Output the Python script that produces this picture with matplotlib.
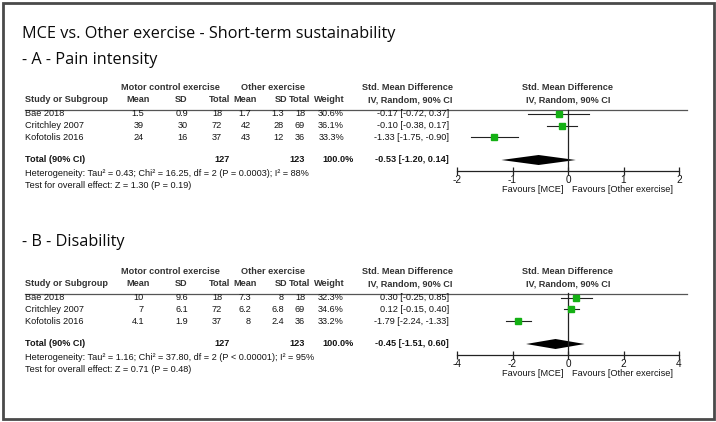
import matplotlib
matplotlib.use("Agg")
import matplotlib.pyplot as plt
from matplotlib.patches import Rectangle
from matplotlib import font_manager

# ---------------- data ----------------
studies = ["Bae 2018", "Critchley 2007", "Kofotolis 2016"]

# Panel A - Pain intensity
a_mce_mean = [1.5, 39, 24]
a_mce_sd = [0.9, 30, 16]
a_mce_n = [18, 72, 37]
a_oth_mean = [1.7, 42, 43]
a_oth_sd = [1.3, 28, 12]
a_oth_n = [18, 69, 36]
a_weight = [30.6, 36.1, 33.3]
a_smd = [-0.17, -0.10, -1.33]
a_lo = [-0.72, -0.38, -1.75]
a_hi = [0.37, 0.17, -0.90]
a_total = [-0.53, -1.20, 0.14]
a_total_n = [127, 123]
a_het = "Heterogeneity: Tau² = 0.43; Chi² = 16.25, df = 2 (P = 0.0003); I² = 88%"
a_test = "Test for overall effect: Z = 1.30 (P = 0.19)"
a_ticks = [-2, -1, 0, 1, 2]

# Panel B - Disability
b_mce_mean = [10, 7, 4.1]
b_mce_sd = [9.6, 6.1, 1.9]
b_mce_n = [18, 72, 37]
b_oth_mean = [7.3, 6.2, 8]
b_oth_sd = [8, 6.8, 2.4]
b_oth_n = [18, 69, 36]
b_weight = [32.3, 34.6, 33.2]
b_smd = [0.30, 0.12, -1.79]
b_lo = [-0.25, -0.15, -2.24]
b_hi = [0.85, 0.40, -1.33]
b_total = [-0.45, -1.51, 0.60]
b_total_n = [127, 123]
b_het = "Heterogeneity: Tau² = 1.16; Chi² = 37.80, df = 2 (P < 0.00001); I² = 95%"
b_test = "Test for overall effect: Z = 0.71 (P = 0.48)"
b_ticks = [-4, -2, 0, 2, 4]

title = "MCE vs. Other exercise - Short-term sustainability"
a_label = "- A - Pain intensity"
b_label = "- B - Disability"

# ---------------- layout ----------------
W, H = 716, 422
fig = plt.figure(figsize=(7.16, 4.22), dpi=100)
bg = fig.add_axes([0, 0, 1, 1])
bg.set_xlim(0, W)
bg.set_ylim(H, 0)
bg.axis("off")

bg.add_patch(Rectangle((2.5, 2.5), 711, 416, fill=False, edgecolor="#4a4a4a", lw=2))

names = {f.name for f in font_manager.fontManager.ttflist}
if "Liberation Sans Narrow" in names:
    TF, FS = "Liberation Sans Narrow", 7.8
else:
    TF, FS = "Liberation Sans", 6.6
BODY = "#141414"
HDR = "#333333"
TITLEF = "Open Sans"
TFS = 11.7

bg.text(22, 34, title, fontsize=TFS, family=TITLEF, va="center", ha="left", color="#0a0a0a")


def fmt(v):
    return f"{v:g}"


def txt(x, y, s, ha="right", bold=False, color=BODY):
    bg.text(x, y, s, fontsize=FS, family=TF, ha=ha, va="center",
            fontweight="bold" if bold else "normal", color=color)


def panel(oy, label, label_y, mce_mean, mce_sd, mce_n, oth_mean, oth_sd, oth_n,
          weight, smd, lo, hi, total, total_n, het, test, ticks, lim):
    bg.text(22, label_y, label, fontsize=TFS, family=TITLEF, va="center", ha="left", color="#0a0a0a")
    h1, h2 = 88 + oy, 100 + oy
    txt(170, h1, "Motor control exercise", ha="center", bold=True, color=HDR)
    txt(273, h1, "Other exercise", ha="center", bold=True, color=HDR)
    txt(408, h1, "Std. Mean Difference", ha="center", bold=True, color=HDR)
    txt(568, h1, "Std. Mean Difference", ha="center", bold=True, color=HDR)
    txt(25, h2, "Study or Subgroup", ha="left", bold=True, color=HDR)
    txt(150, h2, "Mean", bold=True, color=HDR)
    txt(187, h2, "SD", bold=True, color=HDR)
    txt(230, h2, "Total", bold=True, color=HDR)
    txt(233, h2, "Mean", ha="left", bold=True, color=HDR)
    txt(287, h2, "SD", bold=True, color=HDR)
    txt(310, h2, "Total", bold=True, color=HDR)
    txt(345, h2, "Weight", bold=True, color=HDR)
    txt(410, h2, "IV, Random, 90% CI", ha="center", bold=True, color=HDR)
    txt(568, h2, "IV, Random, 90% CI", ha="center", bold=True, color=HDR)
    line_y = 109.5 + oy
    bg.plot([25, 687], [line_y, line_y], color="#555555", lw=0.9)

    rows = [114 + oy, 125.5 + oy, 137 + oy]
    for i, y in enumerate(rows):
        txt(25, y, studies[i], ha="left")
        txt(144, y, fmt(mce_mean[i]))
        txt(188, y, fmt(mce_sd[i]))
        txt(222, y, fmt(mce_n[i]))
        txt(251, y, fmt(oth_mean[i]))
        txt(284, y, fmt(oth_sd[i]))
        txt(305, y, fmt(oth_n[i]))
        txt(344, y, f"{weight[i]:.1f}%")
        txt(449, y, f"{smd[i]:.2f} [{lo[i]:.2f}, {hi[i]:.2f}]")
    ty = 160 + oy
    txt(25, ty, "Total (90% CI)", ha="left", bold=True)
    txt(230, ty, fmt(total_n[0]), bold=True)
    txt(305, ty, fmt(total_n[1]), bold=True)
    txt(354, ty, "100.0%", bold=True)
    txt(449, ty, f"{total[0]:.2f} [{total[1]:.2f}, {total[2]:.2f}]", bold=True)
    txt(25, 173 + oy, het, ha="left")
    txt(25, 185 + oy, test, ha="left")

    # forest axes (x in effect units, y in pixel units)
    x0, x1 = 457, 679
    axis_y = 171 + oy
    ax = fig.add_axes([x0 / W, 1 - axis_y / H, (x1 - x0) / W, (axis_y - line_y) / H])
    ax.set_xlim(-lim, lim)
    ax.set_ylim(axis_y, line_y)
    ax.patch.set_alpha(0)
    for s in ["top", "left", "right"]:
        ax.spines[s].set_visible(False)
    ax.spines["bottom"].set_linewidth(0.9)
    ax.spines["bottom"].set_color("#222222")
    ax.set_yticks([])
    ax.set_xticks(ticks)
    ax.set_xticklabels([f"{t:g}" for t in ticks], fontsize=FS + 0.6, family=TF, color=BODY)
    ax.tick_params(axis="x", direction="inout", length=6, width=0.9, pad=0, color="#222222")
    ax.plot([0, 0], [line_y, axis_y], color="#222222", lw=0.9, clip_on=False)
    for i, y in enumerate(rows):
        ax.plot([lo[i], hi[i]], [y, y], color="#222222", lw=0.8, clip_on=False)
        ax.plot(smd[i], y, "s", color="#14b014", mec="#14b014", ms=weight[i] * 0.13, clip_on=False)
    dh = 5
    ax.fill([total[1], total[0], total[2], total[0]], [ty, ty - dh, ty, ty + dh],
            color="black", lw=0, clip_on=False)
    fy = 190 + oy
    txt(564, fy, "Favours [MCE]", ha="right")
    txt(572, fy, "Favours [Other exercise]", ha="left")


panel(0, a_label, 60, a_mce_mean, a_mce_sd, a_mce_n, a_oth_mean, a_oth_sd, a_oth_n,
      a_weight, a_smd, a_lo, a_hi, a_total, a_total_n, a_het, a_test, a_ticks, 2)
panel(184, b_label, 242, b_mce_mean, b_mce_sd, b_mce_n, b_oth_mean, b_oth_sd, b_oth_n,
      b_weight, b_smd, b_lo, b_hi, b_total, b_total_n, b_het, b_test, b_ticks, 4)

fig.savefig("out.png", dpi=100)
